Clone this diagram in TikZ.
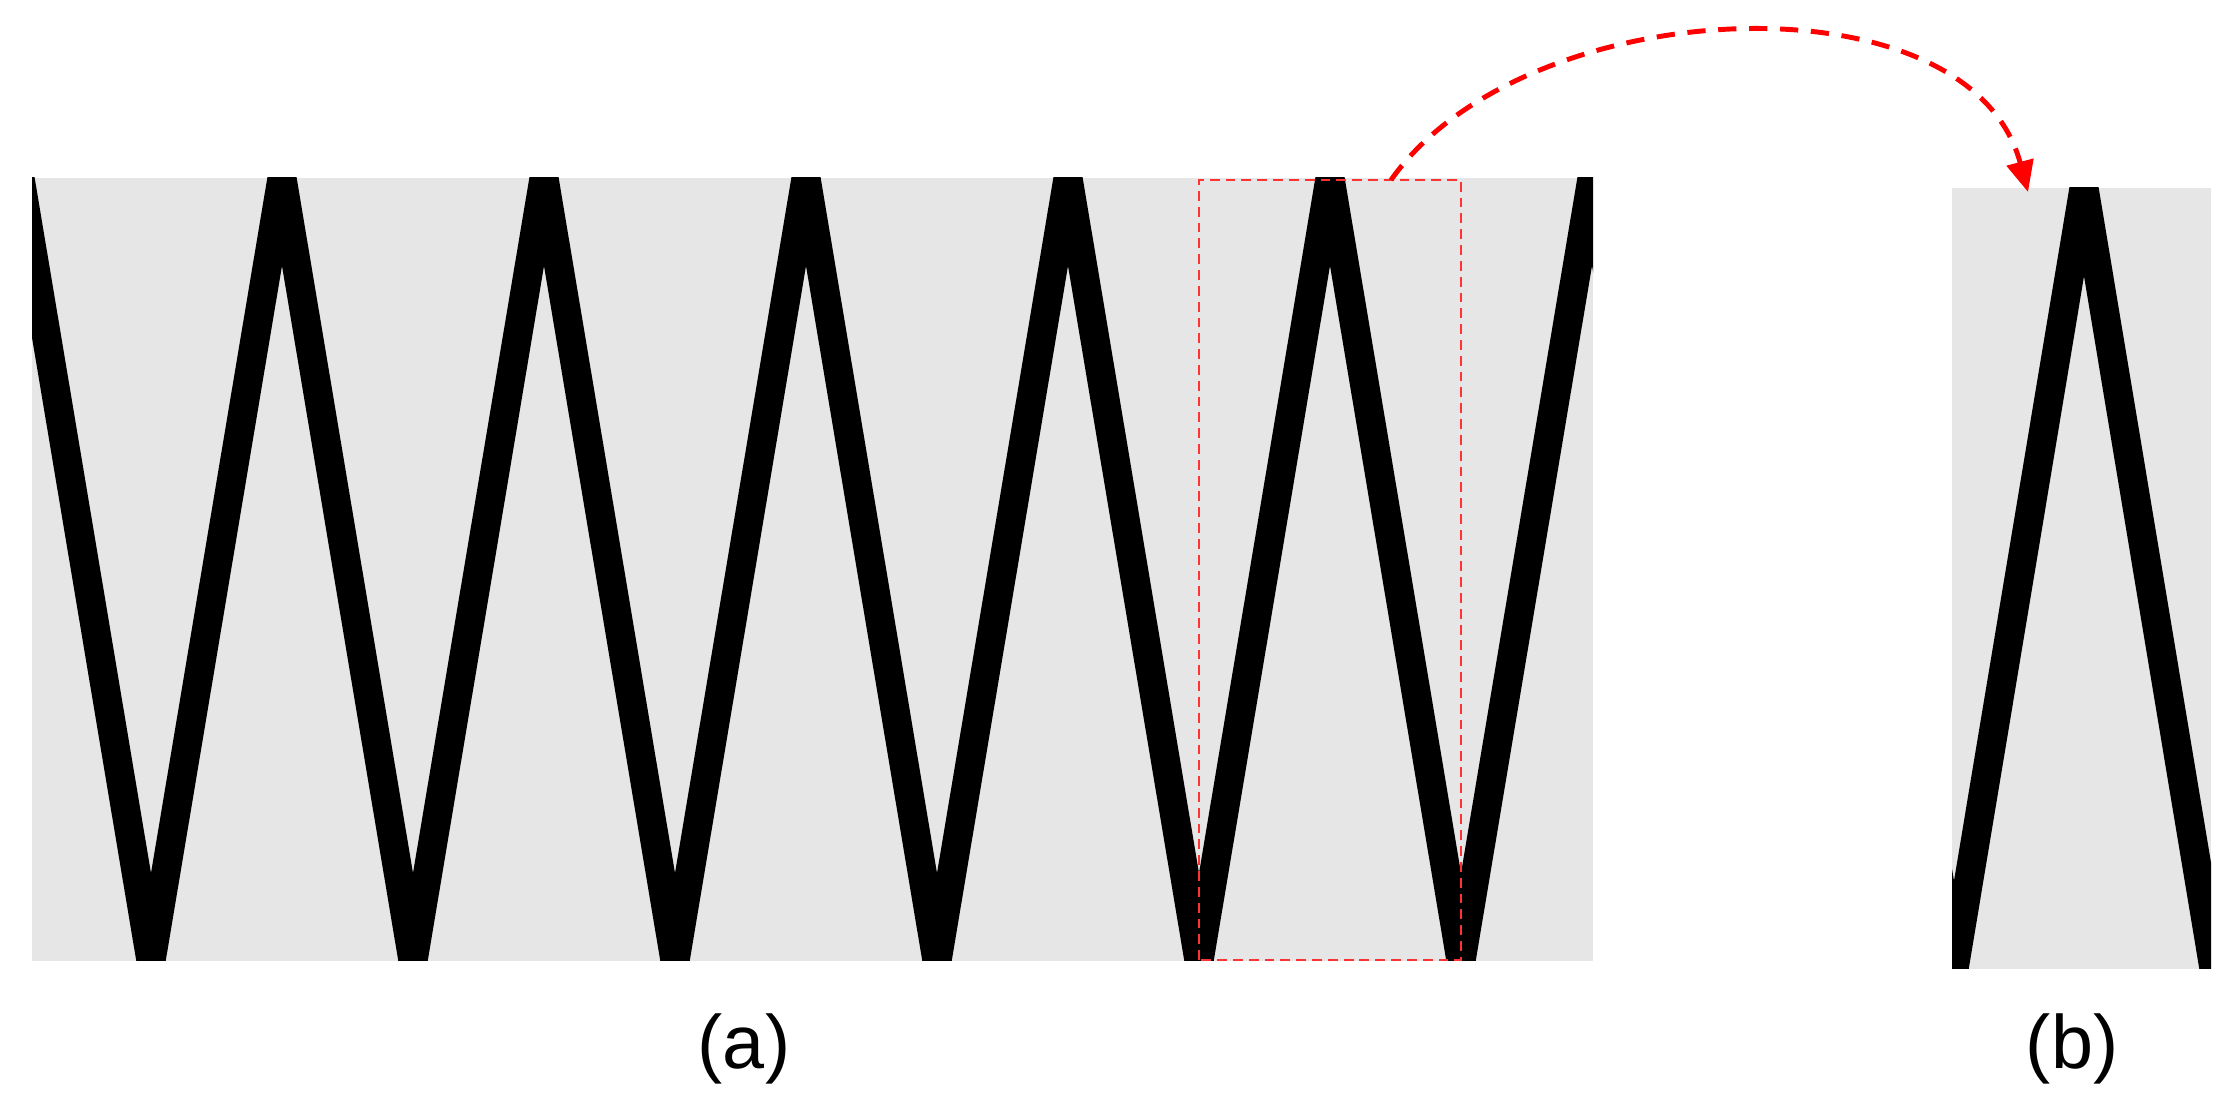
\documentclass[tikz,border=0pt]{standalone}
\usepackage{fontspec}
\setmainfont{Liberation Sans}
\usetikzlibrary{arrows.meta}
\definecolor{panel}{RGB}{230,230,230}
\definecolor{zoomred}{RGB}{255,0,0}

\begin{document}
\begin{tikzpicture}
\useasboundingbox (0,0) rectangle (22.37,11.17);
\fill[panel] (0.32,1.56) rectangle (15.93,9.39);
\fill[panel] (19.52,1.48) rectangle (22.11,9.29);
\begin{scope}
\clip (0.32,1.56) rectangle (15.93,9.39);
\draw[line width=0.29cm] (0.20,9.39) -- (1.51,1.56) -- (2.82,9.39) -- (4.13,1.56) -- (5.44,9.39) -- (6.75,1.56) -- (8.06,9.39) -- (9.37,1.56) -- (10.68,9.39) -- (11.99,1.56) -- (13.30,9.39) -- (14.61,1.56) -- (15.92,9.39) -- (17.23,1.56);
\end{scope}
\begin{scope}
\clip (19.52,1.48) rectangle (22.11,9.29);
\draw[line width=0.29cm] (18.24,9.29) -- (19.54,1.48) -- (20.84,9.29) -- (22.14,1.48) -- (23.44,9.29);
\end{scope}
\draw[zoomred!80, line width=0.6pt, dash pattern=on 2.8pt off 1.7pt] (11.99,1.57) rectangle (14.61,9.37);
\coordinate (boxtop) at (13.91,9.37);
\coordinate (zoomtop) at (20.28,9.25);
\draw[zoomred, line width=1.4pt, dash pattern=on 5.2pt off 3.6pt, -{Triangle[length=0.31cm, width=0.27cm]}] (boxtop) to[out=55, in=105, looseness=0.92] (zoomtop);
\node[font=\fontsize{21.5}{25}\selectfont] (labela) at (7.44,0.68) {(a)};
\node[font=\fontsize{21.5}{25}\selectfont] (labelb) at (20.72,0.68) {(b)};
\end{tikzpicture}
\end{document}
